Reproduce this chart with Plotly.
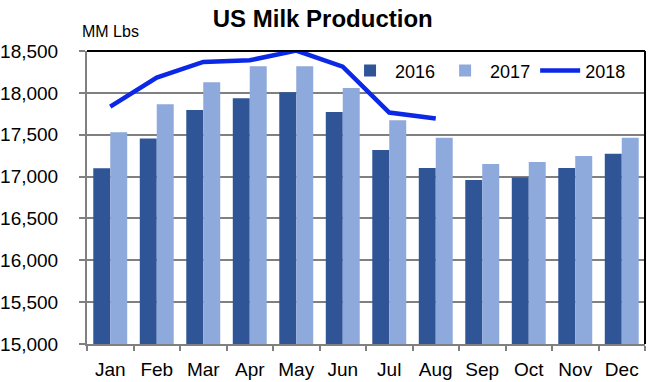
import plotly.graph_objects as go

months = ["Jan", "Feb", "Mar", "Apr", "May", "Jun", "Jul", "Aug", "Sep", "Oct", "Nov", "Dec"]
prod_2016 = [17100, 17455, 17795, 17935, 18008, 17770, 17318, 17102, 16960, 16990, 17102, 17272]
prod_2017 = [17530, 17865, 18127, 18318, 18318, 18059, 17674, 17463, 17150, 17173, 17245, 17463]
months_2018 = ["Jan", "Feb", "Mar", "Apr", "May", "Jun", "Jul", "Aug"]
prod_2018 = [17835, 18183, 18369, 18389, 18505, 18313, 17765, 17693]
y_ticks = [15000, 15500, 16000, 16500, 17000, 17500, 18000, 18500]

FONT = "Liberation Sans, Arial, sans-serif"

fig = go.Figure()
fig.add_trace(go.Bar(x=months, y=prod_2016, name="2016", marker=dict(color="#2F5597", line=dict(width=0))))
fig.add_trace(go.Bar(x=months, y=prod_2017, name="2017", marker=dict(color="#8EA9DB", line=dict(width=0))))
fig.add_trace(go.Scatter(x=months_2018, y=prod_2018, name="2018", mode="lines",
                         line=dict(color="#0A28E6", width=4.5), cliponaxis=False))

fig.update_layout(
    width=656, height=382,
    margin=dict(l=87, r=11, t=51, b=38, autoexpand=False),
    paper_bgcolor="white", plot_bgcolor="white",
    font=dict(family=FONT, color="black"),
    barmode="group", bargap=0.27, bargroupgap=0,
    showlegend=True,
    legend=dict(orientation="h", x=0.975, xanchor="right", y=0.932, yanchor="middle",
                font=dict(size=18), bgcolor="rgba(255,255,255,0)", itemwidth=40,
                traceorder="normal"),
    title=dict(text="<b>US Milk Production</b>", x=0.492, xanchor="center", xref="container",
               y=0.951, yanchor="middle", yref="container", font=dict(size=24, family=FONT)),
    xaxis=dict(categoryorder="array", categoryarray=months, showline=True, linecolor="#808080",
               linewidth=2, ticks="outside", tickson="boundaries", ticklen=5, tickcolor="#808080",
               tickwidth=2, tickfont=dict(size=19), showgrid=False, automargin=False,
               ticklabelstandoff=7),
    yaxis=dict(range=[15000, 18500], tickvals=y_ticks, tickformat=",", showline=True,
               linecolor="#808080", linewidth=2, ticks="outside", ticklen=6, tickcolor="#808080",
               tickwidth=2, showgrid=True, gridcolor="#808080", gridwidth=2, tickfont=dict(size=19),
               zeroline=False, ticklabelstandoff=17, automargin=False),
    annotations=[dict(text="MM Lbs", xref="paper", yref="paper", x=-0.0125, xanchor="left",
                      y=1.065, yanchor="middle", showarrow=False, font=dict(size=16))],
    shapes=[
        dict(type="line", xref="paper", yref="paper", x0=0, x1=1, y0=1, y1=1,
             line=dict(color="black", width=2)),
        dict(type="line", xref="paper", yref="paper", x0=1, x1=1, y0=0, y1=1,
             line=dict(color="black", width=2)),
    ],
)

fig.write_html("out.html", config={"displayModeBar": False},
               post_script="document.body.style.margin='0';")
